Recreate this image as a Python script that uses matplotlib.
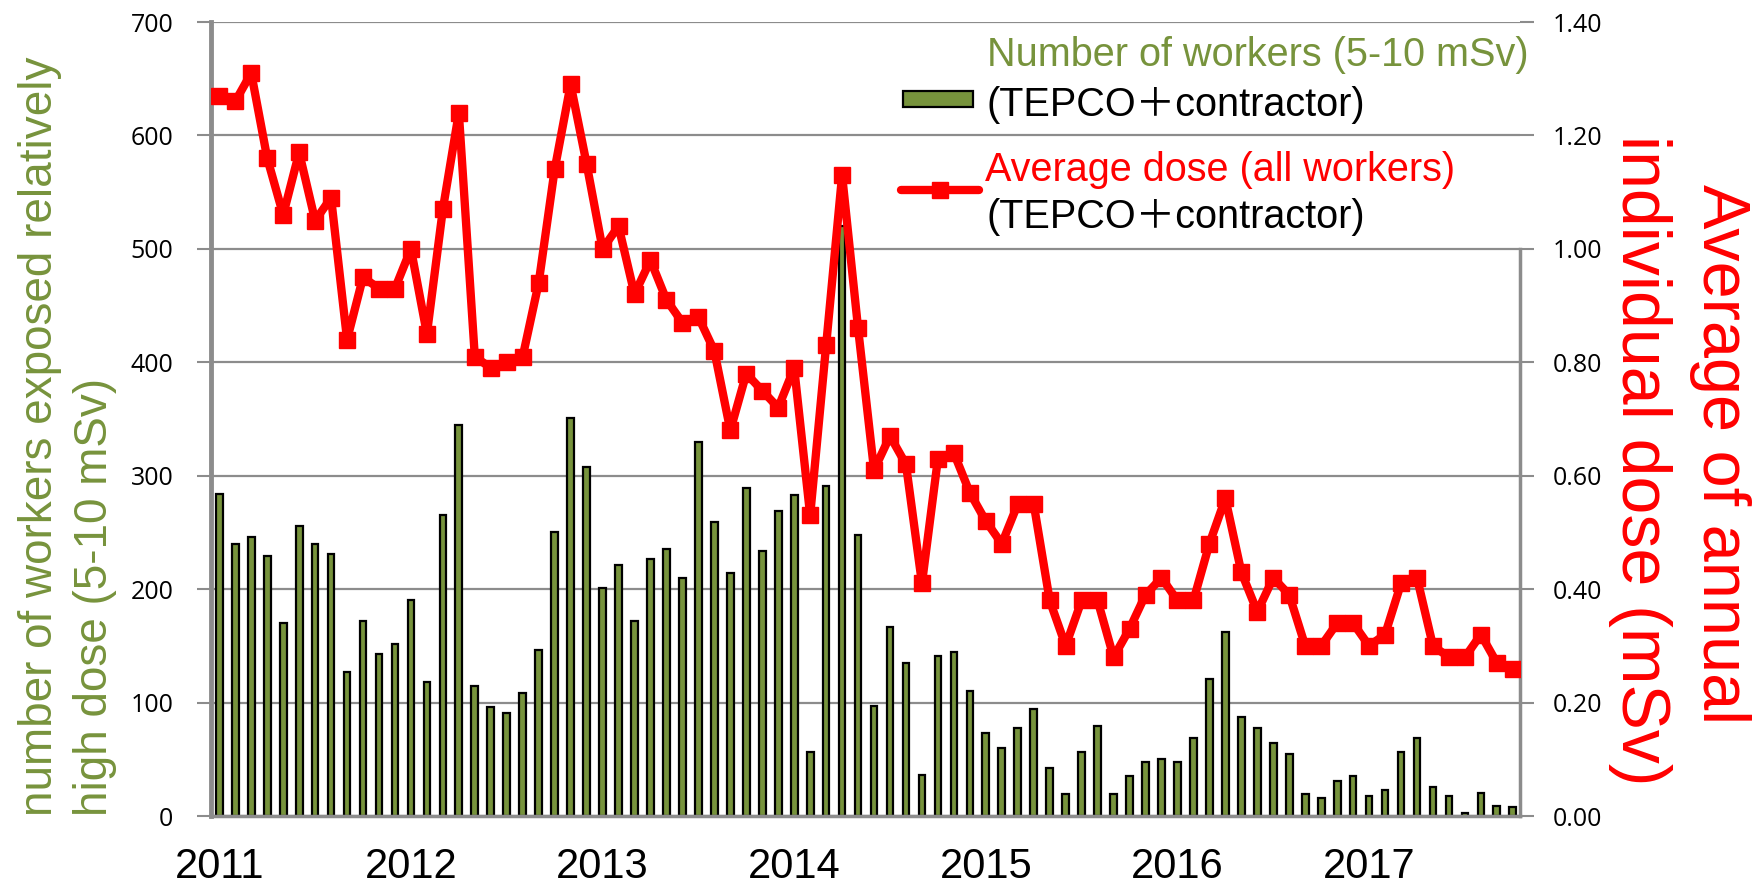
import matplotlib
matplotlib.use("Agg")
import matplotlib.pyplot as plt
from matplotlib.patches import Rectangle
from matplotlib.lines import Line2D
import numpy as np

# monthly values, 2011 .. Oct 2017
workers = [284, 240, 246, 229, 170, 256, 240, 231, 127, 172, 143, 152,
           190, 118, 265, 345, 115, 96, 91, 108, 146, 250, 351, 308,
           201, 221, 172, 227, 235, 210, 330, 259, 214, 289, 234, 269,
           283, 56, 291, 520, 248, 97, 167, 135, 36, 141, 145, 110,
           73, 60, 78, 94, 42, 19, 56, 79, 19, 35, 48, 50,
           48, 69, 121, 162, 87, 78, 64, 55, 19, 16, 31, 35,
           18, 23, 56, 69, 26, 18, 3, 20, 9, 8]
dose = [1.27, 1.26, 1.31, 1.16, 1.06, 1.17, 1.05, 1.09, 0.84, 0.95, 0.93, 0.93,
        1.00, 0.85, 1.07, 1.24, 0.81, 0.79, 0.80, 0.81, 0.94, 1.14, 1.29, 1.15,
        1.00, 1.04, 0.92, 0.98, 0.91, 0.87, 0.88, 0.82, 0.68, 0.78, 0.75, 0.72,
        0.79, 0.53, 0.83, 1.13, 0.86, 0.61, 0.67, 0.62, 0.41, 0.63, 0.64, 0.57,
        0.52, 0.48, 0.55, 0.55, 0.38, 0.30, 0.38, 0.38, 0.28, 0.33, 0.39, 0.42,
        0.38, 0.38, 0.48, 0.56, 0.43, 0.36, 0.42, 0.39, 0.30, 0.30, 0.34, 0.34,
        0.30, 0.32, 0.41, 0.42, 0.30, 0.28, 0.28, 0.32, 0.27, 0.26]
years = ["2011", "2012", "2013", "2014", "2015", "2016", "2017"]

GREEN = "#77933C"
RED = "#FF0000"
GRID = "#8C8C8C"
FONT = ["Liberation Sans", "Noto Sans CJK JP", "DejaVu Sans"]
TICKFONT = ["Open Sans", "DejaVu Sans"]

W, H = 1753, 889
fig = plt.figure(figsize=(W / 100, H / 100), dpi=100)
ax = fig.add_axes([211 / W, 1 - 816 / H, (1520 - 211) / W, (816 - 22) / H])

x = np.arange(len(workers))
ax.bar(x, workers, width=0.42, color=GREEN, edgecolor="black", linewidth=1.6, zorder=2)
ax.set_xlim(-0.52, 81.45)
ax.set_ylim(0, 700)
ax.set_yticks(range(0, 701, 100))
ax.set_yticklabels([str(v) for v in range(0, 701, 100)], family=TICKFONT)
ax.grid(axis="y", color=GRID, linewidth=1.6, zorder=0)
ax.set_axisbelow(True)
ax.set_xticks(np.arange(0, len(workers), 12))
ax.set_xticklabels(years, family=FONT, fontsize=30)
ax.tick_params(axis="x", length=0, pad=22)
ax.tick_params(axis="y", length=10, width=1.5, color=GRID, labelsize=18, pad=17, labelcolor="black")
for s in ["top", "right"]:
    ax.spines[s].set_visible(False)
ax.spines["left"].set_color("#8C8C8C")
ax.spines["left"].set_linewidth(3.5)
ax.spines["bottom"].set_color("#8C8C8C")
ax.spines["bottom"].set_linewidth(2.5)

ax2 = ax.twinx()
ax2.plot(x, dose, color=RED, linewidth=6, marker="s", markersize=11, zorder=3)
ax2.set_ylim(0, 1.4)
ax2.set_yticks(np.arange(0, 1.41, 0.2))
ax2.set_yticklabels([f"{v:.2f}" for v in np.arange(0, 1.41, 0.2)], family=TICKFONT)
ax2.tick_params(axis="y", length=10, width=1.5, color=GRID, labelsize=18, pad=13.5, labelcolor="black")
for s in ["top", "left", "bottom"]:
    ax2.spines[s].set_visible(False)
ax2.spines["right"].set_bounds(0, 1.0)
ax2.spines["right"].set_color("#8C8C8C")
ax2.spines["right"].set_linewidth(2.5)

# axis titles
fig.text(40 / W, 1 - 816 / H, "number of workers exposed relatively", color=GREEN,
         family=FONT, fontsize=33, rotation=90, rotation_mode="anchor", ha="left", va="center")
fig.text(95 / W, 1 - 816 / H, "high dose (5-10 mSv)", color=GREEN,
         family=FONT, fontsize=33, rotation=90, rotation_mode="anchor", ha="left", va="center")
fig.text(1720 / W, 1 - 184 / H, "Average of annual", color=RED,
         family=FONT, fontsize=48, rotation=-90, rotation_mode="anchor", ha="left", va="center")
fig.text(1640 / W, 1 - 135 / H, "individual dose (mSv)", color=RED,
         family=FONT, fontsize=49, rotation=-90, rotation_mode="anchor", ha="left", va="center")

# legend drawn by hand
fig.add_artist(Rectangle((903 / W, 1 - 107 / H), 70 / W, 16 / H, facecolor=GREEN,
                         edgecolor="black", linewidth=1.6, transform=fig.transFigure))
fig.add_artist(Line2D([901 / W, 979 / W], [1 - 190 / H] * 2, color=RED, linewidth=6,
                      solid_capstyle="round", transform=fig.transFigure))
fig.add_artist(Line2D([940 / W], [1 - 190 / H], color=RED, marker="s", markersize=11,
                      transform=fig.transFigure))
fig.text(987 / W, 1 - 55 / H, "Number of workers (5-10 mSv)", color=GREEN, family=FONT,
         fontsize=28.5, va="center")
fig.text(987 / W, 1 - 105 / H, "(TEPCO＋contractor)", color="black", family=FONT,
         fontsize=28.5, va="center")
fig.text(985 / W, 1 - 170 / H, "Average dose (all workers)", color=RED, family=FONT,
         fontsize=28.5, va="center")
fig.text(987 / W, 1 - 217 / H, "(TEPCO＋contractor)", color="black", family=FONT,
         fontsize=28.5, va="center")

fig.savefig("out.png", dpi=100)
